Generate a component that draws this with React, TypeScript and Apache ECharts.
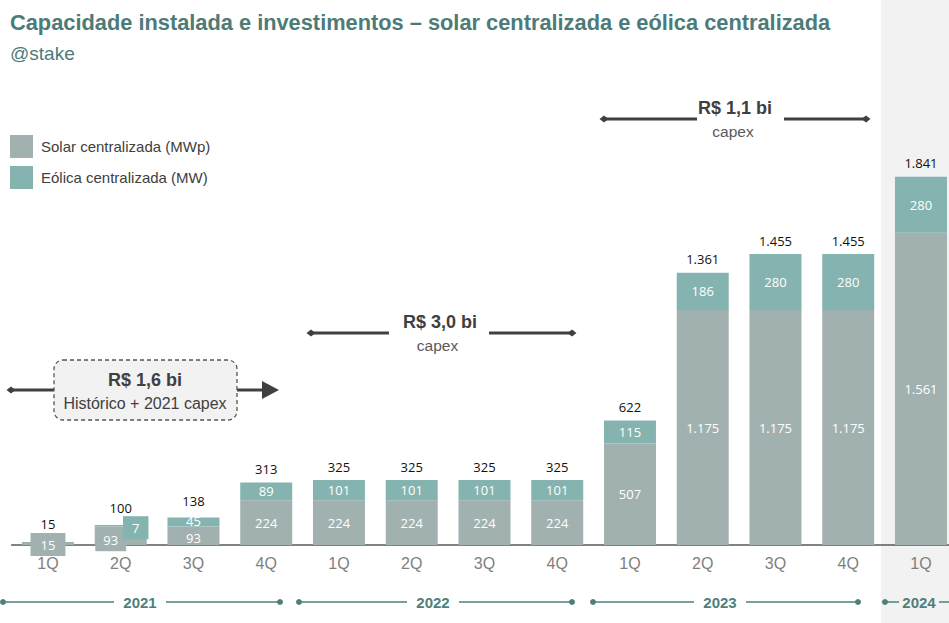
import React, { useEffect, useRef } from "react";
import * as echarts from "echarts";

const quarters = ["1Q", "2Q", "3Q", "4Q", "1Q", "2Q", "3Q", "4Q", "1Q", "2Q", "3Q", "4Q", "1Q"];
const solar = [15, 93, 93, 224, 224, 224, 224, 224, 507, 1175, 1175, 1175, 1561];
const eolica = [0, 7, 45, 89, 101, 101, 101, 101, 115, 186, 280, 280, 280];
const totals = [15, 100, 138, 313, 325, 325, 325, 325, 622, 1361, 1455, 1455, 1841];
const years = ["2021", "2022", "2023", "2024"];

const SOLAR_NAME = "Solar centralizada (MWp)";
const EOLICA_NAME = "Eólica centralizada (MW)";
const GREY = "#a1b1af";
const TEAL = "#85b4b0";
const DARK = "#404040";
const YEARC = "#4f7f7c";
const FONT = "'Liberation Sans', Arial, sans-serif";
const NUMFONT = "'Open Sans', 'Liberation Sans', sans-serif";

const fmt = (v: number) => String(v).replace(/\B(?=(\d{3})+(?!\d))/g, ".");

function diamond(x: number, y: number, s = 4.5) {
  return {
    type: "polygon",
    shape: { points: [[x - s, y], [x, y - s * 0.8], [x + s, y], [x, y + s * 0.8]] },
    style: { fill: DARK },
  };
}
function hline(x1: number, x2: number, y: number, color = DARK, w = 3) {
  return { type: "line", shape: { x1, y1: y, x2, y2: y }, style: { stroke: color, lineWidth: w } };
}
function dot(x: number, y: number) {
  return { type: "circle", shape: { cx: x, cy: y, r: 3 }, style: { fill: YEARC } };
}
function txt(x: number, y: number, text: string, size: number, color: string, weight: any = "normal", align = "center") {
  return {
    type: "text",
    x,
    y,
    style: { text, fontSize: size, fontWeight: weight, fill: color, fontFamily: FONT, align, verticalAlign: "middle" },
  };
}

export default function App() {
  const ref = useRef<HTMLDivElement>(null);
  useEffect(() => {
    if (!ref.current) return;
    const chart = echarts.init(ref.current, null, { renderer: "svg" });
    const yearSpans: [number, number, number][] = [
      [3, 280, 140],
      [299, 572, 433],
      [593, 858, 720],
      [885, 960, 919],
    ];
    const yearGraphics: any[] = [];
    yearSpans.forEach(([a, b, c], i) => {
      const half = i === 3 ? 20 : 26;
      yearGraphics.push(hline(a, c - half, 602, YEARC, 1.5));
      yearGraphics.push(hline(c + half, b, 602, YEARC, 1.5));
      yearGraphics.push(dot(a, 602));
      if (i < 3) yearGraphics.push(dot(b, 602));
      yearGraphics.push(txt(c, 602, years[i], 15, YEARC, "bold"));
    });

    // label boxes that the reference draws for the first quarters
    const solarData = solar.map((v, i) => {
      if (i === 0) return { value: v, label: { backgroundColor: GREY, padding: [5, 10, 5, 10], offset: [0, 1] } };
      if (i === 1) return { value: v, label: { backgroundColor: GREY, padding: [5, 8, 5, 8], offset: [-10, 4] } };
      if (i === 2) return { value: v, label: { offset: [0, 2] } };
      return v;
    });
    const eolicaData = eolica.map((v, i) => {
      if (i === 1) return { value: v, label: { backgroundColor: TEAL, padding: [5, 9, 5, 9], offset: [15, 2] } };
      if (i === 2) return { value: v, label: { offset: [0, -1] } };
      return v;
    });
    const totalData = totals.map((v, i) => {
      if (i === 0) return { value: v, label: { offset: [0, -5] } };
      if (i === 1) return { value: v, label: { offset: [0, -4] } };
      if (i === 2) return { value: v, label: { offset: [0, -3] } };
      return v;
    });

    chart.setOption({
      animation: false,
      backgroundColor: "#ffffff",
      grid: { left: 11.6, width: 945.75, top: 145, height: 400, containLabel: false },
      legend: {
        orient: "vertical",
        left: 10,
        top: 135,
        padding: 0,
        itemWidth: 23,
        itemHeight: 23,
        itemGap: 8,
        icon: "rect",
        data: [SOLAR_NAME, EOLICA_NAME],
        textStyle: { fontSize: 15, color: DARK, fontFamily: FONT, padding: [0, 0, 0, 3] },
      },
      xAxis: {
        type: "category",
        data: quarters,
        axisTick: { show: false },
        axisLine: { lineStyle: { color: "#595959", width: 1.5 } },
        axisLabel: { color: "#7f7f7f", fontSize: 16, fontFamily: FONT, margin: 10 },
      },
      yAxis: { type: "value", min: 0, max: 2000, show: false, splitLine: { show: false } },
      graphic: [
        { type: "rect", shape: { x: 881, y: 0, width: 80, height: 623 }, style: { fill: "#f2f2f2" }, z: -10 },
        txt(10, 22, "Capacidade instalada e investimentos – solar centralizada e eólica centralizada", 21.8, "#4d7b77", "bold", "left"),
        txt(10, 53, "@stake", 19, "#4d7b77", "normal", "left"),
        // R$ 1,1 bi
        hline(604, 697, 119),
        hline(784, 866, 119),
        diamond(604, 119),
        diamond(866, 119),
        txt(735, 108, "R$ 1,1 bi", 18, DARK, "bold"),
        txt(733, 131, "capex", 15.5, "#595959"),
        // R$ 3,0 bi
        hline(311, 389, 333),
        hline(489, 572, 333),
        diamond(311, 333),
        diamond(572, 333),
        txt(440, 322, "R$ 3,0 bi", 18, DARK, "bold"),
        txt(437.5, 345, "capex", 15.5, "#595959"),
        // R$ 1,6 bi box
        hline(11, 54, 390),
        diamond(11, 390),
        hline(237, 264, 390),
        { type: "polygon", shape: { points: [[262, 381], [279, 390], [262, 399]] }, style: { fill: DARK } },
        {
          type: "rect",
          shape: { x: 54, y: 360, width: 183, height: 60, r: 9 },
          style: { fill: "#f2f2f2", stroke: "#555555", lineWidth: 1.3, lineDash: [4, 3] },
        },
        txt(145, 380, "R$ 1,6 bi", 18, DARK, "bold"),
        txt(145, 403, "Histórico + 2021 capex", 16, "#404040"),
        ...yearGraphics,
      ],
      series: [
        {
          name: SOLAR_NAME,
          type: "bar",
          stack: "cap",
          barWidth: 52,
          data: solarData,
          itemStyle: { color: GREY },
          label: {
            show: true,
            position: "inside",
            color: "#ffffff",
            fontSize: 13,
            fontFamily: NUMFONT,
            formatter: (p: any) => fmt(p.value),
          },
        },
        {
          name: EOLICA_NAME,
          type: "bar",
          stack: "cap",
          barWidth: 52,
          data: eolicaData,
          itemStyle: { color: TEAL },
          label: {
            show: true,
            position: "inside",
            color: "#ffffff",
            fontSize: 13,
            fontFamily: NUMFONT,
            formatter: (p: any) => (p.value ? fmt(p.value) : ""),
          },
        },
        {
          name: "Total",
          type: "bar",
          barWidth: 52,
          barGap: "-100%",
          data: totalData,
          silent: true,
          itemStyle: { color: "rgba(0,0,0,0)" },
          label: {
            show: true,
            position: "top",
            distance: 7,
            color: "#111111",
            fontSize: 13,
            fontFamily: NUMFONT,
            formatter: (p: any) => fmt(p.value),
          },
        },
      ],
    });
    return () => chart.dispose();
  }, []);
  return (
    <div style={{ position: "fixed", left: 0, top: 0, width: 949, height: 623, overflow: "hidden", background: "#fff" }}>
      <div ref={ref} style={{ width: 960, height: 623 }} />
    </div>
  );
}
